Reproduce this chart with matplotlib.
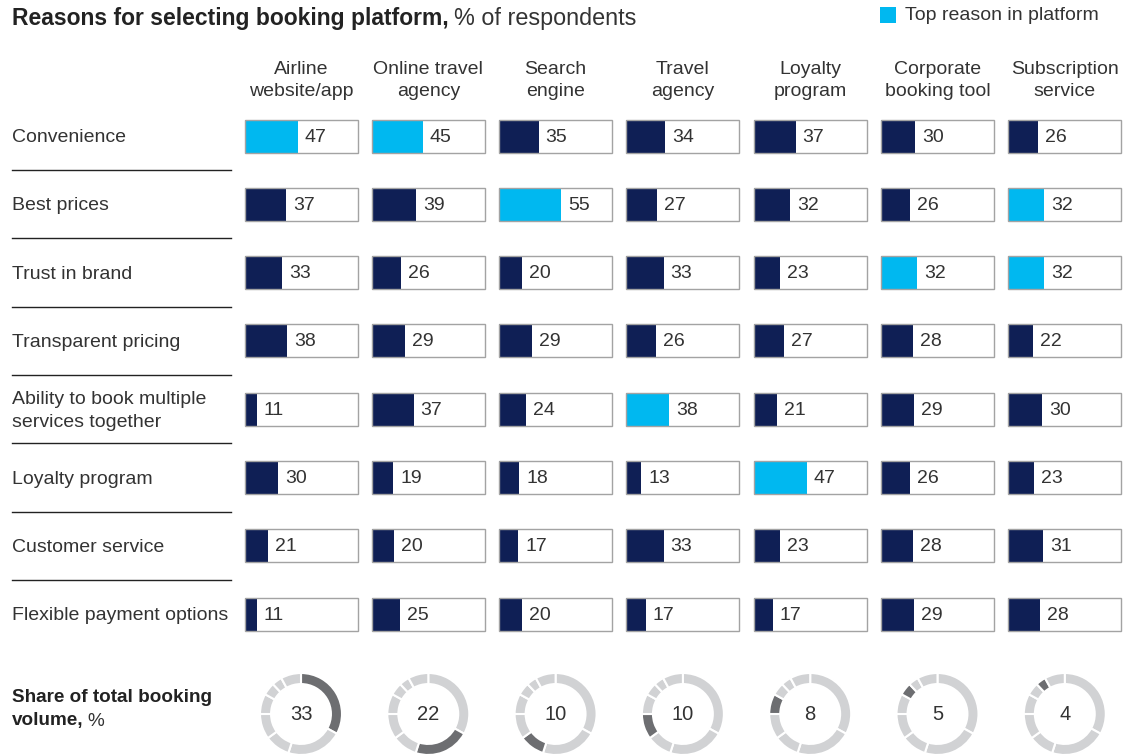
import numpy as np
import matplotlib.pyplot as plt

# ==================== data ====================
platforms = ['Airline\nwebsite/app', 'Online travel\nagency', 'Search\nengine', 'Travel\nagency',
             'Loyalty\nprogram', 'Corporate\nbooking tool', 'Subscription\nservice']
reasons = ['Convenience', 'Best prices', 'Trust in brand', 'Transparent pricing',
           'Ability to book multiple\nservices together', 'Loyalty program',
           'Customer service', 'Flexible payment options']
convenience = [47, 45, 35, 34, 37, 30, 26]
best_prices = [37, 39, 55, 27, 32, 26, 32]
trust_in_brand = [33, 26, 20, 33, 23, 32, 32]
transparent_pricing = [38, 29, 29, 26, 27, 28, 22]
multiple_services = [11, 37, 24, 38, 21, 29, 30]
loyalty_program = [30, 19, 18, 13, 47, 26, 23]
customer_service = [21, 20, 17, 33, 23, 28, 31]
flexible_payment = [11, 25, 20, 17, 17, 29, 28]
booking_share = [33, 22, 10, 10, 8, 5, 4]
other_share = 8

# ==================== style ====================
W, H = 1132, 755
navy = '#0f1f55'
cyan = '#00b8f0'
txt = '#333333'
dark = '#222222'
box_edge = '#a3a3a3'
ring_dark = '#6d6e71'
ring_light = '#d1d2d4'
col_x0 = 244.5      # left edge of first box
col_pitch = 127.3
box_w = 113
box_h = 33
row_y0 = 136
row_pitch = 68.3
donut_y = 714
donut_r = 41

plt.rcParams['font.family'] = ['Liberation Sans', 'DejaVu Sans']

values = np.array([convenience, best_prices, trust_in_brand, transparent_pricing,
                   multiple_services, loyalty_program, customer_service, flexible_payment])
nrow, ncol = values.shape
row_y = row_y0 + np.arange(nrow) * row_pitch
col_left = col_x0 + np.arange(ncol) * col_pitch
col_mid = col_left + box_w / 2

fig = plt.figure(figsize=(W / 100, H / 100), dpi=100)
ax = fig.add_axes([0, 0, 1, 1])
ax.set_xlim(0, W)
ax.set_ylim(H, 0)
ax.axis('off')
renderer = fig.canvas.get_renderer()


def text_after(t, gap, s, **kw):
    # put regular text right after a bold one
    bb = t.get_window_extent(renderer)
    x, y = t.get_position()
    return ax.text(bb.x1 + gap, y, s, **kw)


# title + legend
t = ax.text(12, 18, 'Reasons for selecting booking platform,', fontsize=16.5, fontweight='bold',
            color=dark, va='center')
text_after(t, 5, '% of respondents', fontsize=16.8, color=txt, va='center')
ax.bar(888, 16, width=16, bottom=7, color=cyan)
ax.text(905, 15, 'Top reason in platform', fontsize=14, color=txt, va='center')

# column headers
for j, p in enumerate(platforms):
    ax.text(col_mid[j], 80.5, p, fontsize=14, color=txt, ha='center', va='center',
            linespacing=1.45)

# row labels + separators
for i, r in enumerate(reasons):
    ax.text(12, row_y[i] + 1.5, r, fontsize=14, color=txt, va='center', linespacing=1.45)
    if i < nrow - 1:
        ax.plot([12, 231], [row_y[i] + row_pitch / 2] * 2, color=dark, lw=1)

# bars
for j in range(ncol):
    col = values[:, j]
    colors = [cyan if v == col.max() else navy for v in col]
    ax.barh(row_y, box_w, left=col_left[j], height=box_h, color='white', zorder=1)
    ax.barh(row_y, col / 100 * box_w, left=col_left[j], height=box_h, color=colors, zorder=2)
    ax.barh(row_y, box_w, left=col_left[j], height=box_h, facecolor='none',
            edgecolor=box_edge, lw=1, zorder=3)
    for i, v in enumerate(col):
        ax.text(col_left[j] + v / 100 * box_w + 7, row_y[i] + 1, str(v), fontsize=14,
                color=txt, va='center', zorder=4)

# share of booking volume
ax.text(12, 697, 'Share of total booking', fontsize=13.6, fontweight='bold', color=dark,
        va='center')
t = ax.text(12, 721, 'volume,', fontsize=13.6, fontweight='bold', color=dark, va='center')
text_after(t, 4, '%', fontsize=13.6, color=txt, va='center')

shares = booking_share + [other_share]
for j in range(ncol):
    axd = fig.add_axes([(col_mid[j] - donut_r) / W, 1 - (donut_y + donut_r) / H,
                        2 * donut_r / W, 2 * donut_r / H])
    cols = [ring_dark if k == j else ring_light for k in range(len(shares))]
    axd.pie(shares, colors=cols, startangle=90, counterclock=False, radius=1,
            wedgeprops=dict(width=0.27, edgecolor='white', linewidth=1.5))
    axd.set_xlim(-1, 1)
    axd.set_ylim(-1, 1)
    axd.text(0, 0, str(booking_share[j]), fontsize=14.5, color=txt, ha='center', va='center')

fig.savefig('out.png', dpi=100)
